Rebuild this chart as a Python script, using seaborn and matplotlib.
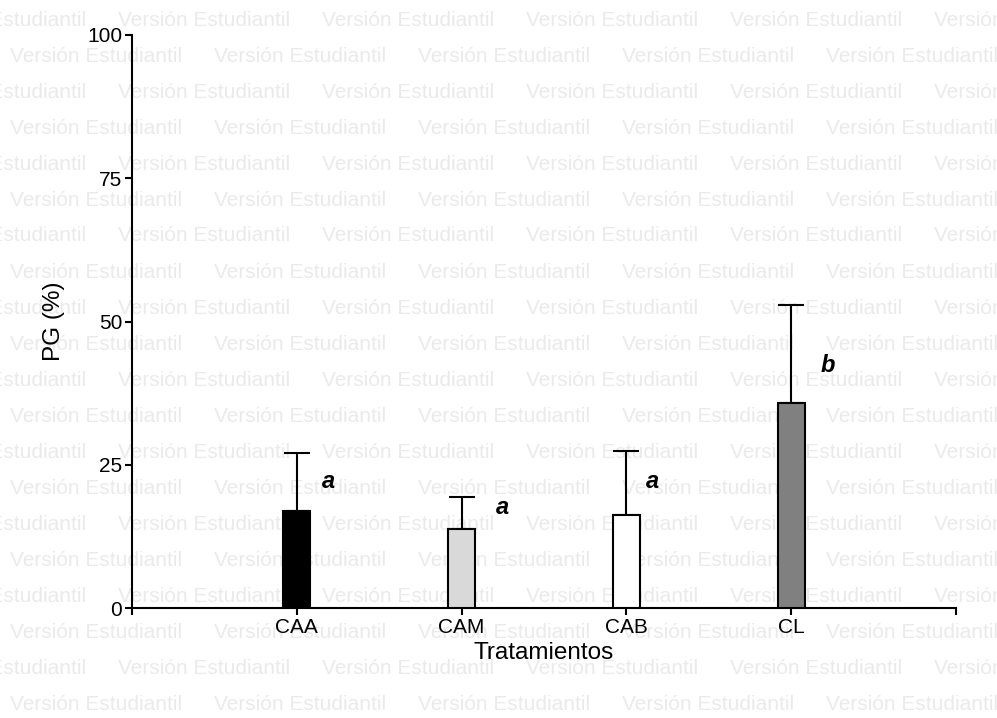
import numpy as np
import pandas as pd
import matplotlib
matplotlib.use("Agg")
import matplotlib.pyplot as plt
import seaborn as sns

# data
tratamientos = ["CAA", "CAM", "CAB", "CL"]
pg_media = [16.9, 13.8, 16.2, 35.8]
pg_error = [10.1, 5.6, 11.2, 17.1]
letras = ["a", "a", "a", "b"]
letra_x = [0.19, 0.25, 0.16, 0.22]
letra_y = [22.0, 17.6, 22.0, 42.4]
colores = ["#000000", "#d9d9d9", "#ffffff", "#808080"]

sns.set_style("white")
plt.rcParams["font.family"] = ["Liberation Sans", "DejaVu Sans"]
plt.rcParams["text.color"] = "black"
plt.rcParams["axes.labelcolor"] = "black"
plt.rcParams["xtick.color"] = "black"
plt.rcParams["ytick.color"] = "black"

df = pd.DataFrame({"Tratamiento": tratamientos, "PG": pg_media})

fig = plt.figure(figsize=(9.97, 7.18), dpi=100)
W, H = 997, 718

# student version watermark behind everything
for k in range(20):
    ypix = 20 + 36 * k
    x0 = -86 if k % 2 == 0 else 10
    for j in range(7):
        xpix = x0 + 204 * j
        fig.text(xpix / W, 1 - ypix / H, "Versión Estudiantil", fontsize=15,
                 color="#eaeaea", ha="left", va="center", zorder=-5)

ax = fig.add_axes([132 / W, 1 - 608 / H, 824 / W, 573 / H])
ax.set_facecolor("none")

sns.barplot(data=df, x="Tratamiento", y="PG", hue="Tratamiento",
            palette=colores, order=tratamientos, width=0.165,
            edgecolor="black", linewidth=1.5, legend=False, ax=ax,
            errorbar=None, zorder=3)

pos = np.arange(len(tratamientos))
ax.errorbar(pos, pg_media, yerr=[np.zeros(len(pos)), pg_error], fmt="none",
            ecolor="black", elinewidth=1.5, capsize=9.7, capthick=1.5, zorder=2)

for i, (lt, dx, yy) in enumerate(zip(letras, letra_x, letra_y)):
    ax.text(pos[i] + dx, yy, lt, fontsize=17, fontweight="bold", style="italic",
            ha="center", va="center", color="black")

ax.set_xlim(-1, 4)
ax.set_ylim(0, 100)
ax.set_yticks([0, 25, 50, 75, 100])
ax.set_xticks(pos)
ax.set_xticklabels(tratamientos)
ax.set_xticks([-1, 4], minor=True)
ax.tick_params(axis="both", which="both", direction="out", length=5, width=1.5,
               color="black", labelcolor="black", labelsize=15, pad=2,
               left=True, bottom=True)
ax.tick_params(axis="y", which="minor", left=False)

for s in ["top", "right"]:
    ax.spines[s].set_visible(False)
for s in ["left", "bottom"]:
    ax.spines[s].set_color("black")
    ax.spines[s].set_linewidth(1.5)

ax.set_xlabel("Tratamientos", fontsize=17.5, labelpad=4, color="black")
ax.set_ylabel("PG (%)", fontsize=17.5, labelpad=16, color="black")

fig.savefig("out.png", dpi=100)
